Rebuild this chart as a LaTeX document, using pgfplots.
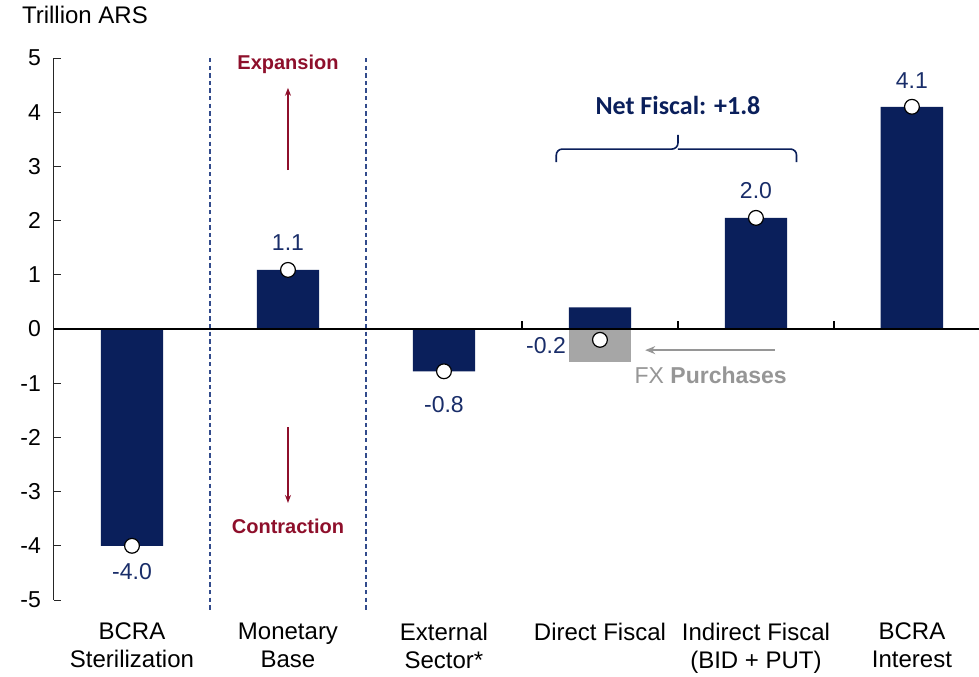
\documentclass[border=0pt]{standalone}
\usepackage{pgfplots}
\pgfplotsset{compat=1.18}
\usepackage{fontspec}
\setmainfont{Liberation Sans}
\newfontfamily\carlito{Carlito}
\usetikzlibrary{arrows.meta}
\definecolor{navy}{RGB}{10,31,91}
\definecolor{labnavy}{RGB}{25,45,105}
\definecolor{darkred}{RGB}{142,15,43}
\definecolor{greybar}{RGB}{166,166,166}
\definecolor{fxgrey}{RGB}{150,150,150}
\definecolor{dashblue}{RGB}{50,75,140}
\begin{document}
\begin{tikzpicture}
\path[use as bounding box] (-27pt,-38pt) rectangle (462.5pt,300pt);
\begin{axis}[
  at={(0,0)}, anchor=south west,
  scale only axis, width=462.5pt, height=271pt,
  xmin=-0.5, xmax=5.43, ymin=-5, ymax=5,
  clip=false,
  axis y line*=left, axis x line*=bottom,
  x axis line style={draw=none},
  y axis line style={black!85, line width=0.5pt},
  xtick={0,...,5},
  xticklabels={{BCRA\\Sterilization},{Monetary\\Base},{External\\Sector*},{Direct Fiscal},{Indirect Fiscal\\(BID + PUT)},{BCRA\\Interest}},
  xticklabel style={align=center, font=\fontsize{12}{14}\selectfont, anchor=north, yshift=-8pt},
  xtick style={draw=none},
  ytick={-5,...,5},
  yticklabel style={font=\fontsize{11.5}{13}\selectfont, xshift=-3pt},
  /pgf/number format/assume math mode=true,
  ytick style={black!85, line width=0.5pt},
  tick align=inside,
  major tick length=3.5pt,
]
\addplot[ybar, bar width=0.4, bar shift=0pt, fill=navy, draw=none] coordinates {(0,-4.0) (1,1.09) (2,-0.78) (3,0.4) (4,2.05) (5,4.1)};
\addplot[ybar, bar width=0.4, bar shift=0pt, fill=greybar, draw=none] coordinates {(3,-0.6)};
\draw[black, line width=0.6pt] (axis cs:-0.5,0) -- (axis cs:5.43,0);
\draw[black, line width=0.6pt] (axis cs:2.5,0) -- (axis cs:2.5,0.15);
\draw[black, line width=0.6pt] (axis cs:3.5,0) -- (axis cs:3.5,0.15);
\draw[black, line width=0.6pt] (axis cs:4.5,0) -- (axis cs:4.5,0.15);
\draw[dashblue, dash pattern=on 2.2pt off 1.6pt, line width=0.6pt] (axis cs:0.5,5) -- (axis cs:0.5,-5.22);
\draw[dashblue, dash pattern=on 2.2pt off 1.6pt, line width=0.6pt] (axis cs:1.5,5) -- (axis cs:1.5,-5.22);
\addplot[only marks, mark=*, mark size=3.7pt, mark options={fill=white, draw=black, line width=0.6pt}] coordinates {(0,-4.0) (1,1.09) (2,-0.78) (3,-0.2) (4,2.05) (5,4.1)};
% value labels
\node[labnavy, font=\fontsize{11.5}{13}\selectfont] at (axis cs:0,-4.48) {-4.0};
\node[labnavy, font=\fontsize{11.5}{13}\selectfont] at (axis cs:1,1.6) {1.1};
\node[labnavy, font=\fontsize{11.5}{13}\selectfont] at (axis cs:2,-1.4) {-0.8};
\node[labnavy, font=\fontsize{11.5}{13}\selectfont] at (axis cs:2.654,-0.30) {-0.2};
\node[labnavy, font=\fontsize{11.5}{13}\selectfont] at (axis cs:4,2.56) {2.0};
\node[labnavy, font=\fontsize{11.5}{13}\selectfont] at (axis cs:5,4.59) {4.1};
% expansion / contraction
\node[darkred, font=\bfseries\fontsize{10}{12}\selectfont] at (axis cs:1,4.89) {Expansion};
\draw[darkred, line width=0.6pt, -{Stealth[length=4pt,width=3pt]}] (axis cs:1,2.93) -- (axis cs:1,4.45);
\node[darkred, font=\bfseries\fontsize{10}{12}\selectfont] at (axis cs:1,-3.65) {Contraction};
\draw[darkred, line width=0.6pt, -{Stealth[length=4pt,width=3pt]}] (axis cs:1,-1.81) -- (axis cs:1,-3.21);
% net fiscal
\node[navy, font=\carlito\bfseries\fontsize{13}{15}\selectfont] at (axis cs:3.5,4.13) {Net Fiscal: +1.8};
\draw[navy, line width=0.8pt, rounded corners=3pt] (axis cs:2.72,3.08) |- (axis cs:3.5,3.32) -- (axis cs:3.5,3.58);
\draw[navy, line width=0.8pt, rounded corners=3pt] (axis cs:4.26,3.08) |- (axis cs:3.5,3.32);
% FX purchases
\draw[fxgrey, line width=0.8pt, -{Stealth[length=5pt,width=4pt]}] (axis cs:4.12,-0.39) -- (axis cs:3.29,-0.39);
\node[fxgrey, font=\fontsize{11.5}{13}\selectfont] at (axis cs:3.71,-0.85) {FX \textbf{Purchases}};
\end{axis}
\node[anchor=base west, font=\fontsize{12}{14}\selectfont] at (-19.5pt,288pt) {Trillion ARS};
\end{tikzpicture}
\end{document}
